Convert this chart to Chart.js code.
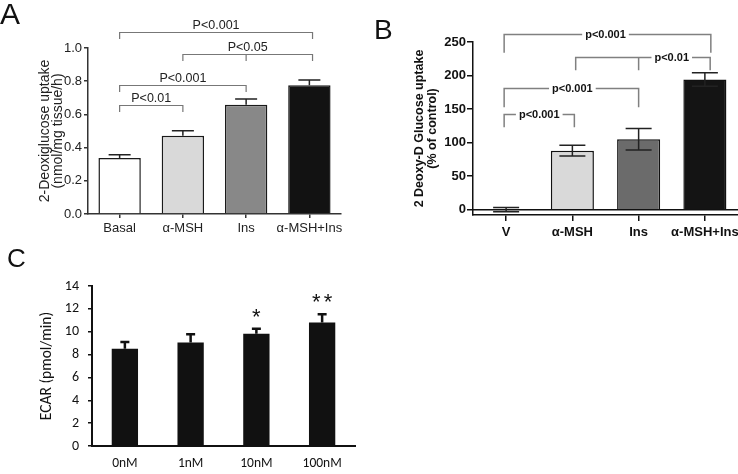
<!DOCTYPE html>
<html>
<head>
<meta charset="utf-8">
<script src="https://cdn.jsdelivr.net/npm/chart.js@4.4.1/dist/chart.umd.min.js"></script>
<style>
  body { margin: 0; background: #fff; overflow: hidden; width: 738px; height: 474px; position: relative; }
  canvas { position: absolute; }
  .panel { position: absolute; font-family: 'Liberation Sans', Arial, sans-serif; line-height: 1; color: #111; }
</style>
</head>
<body>
<canvas id="chartA" width="360" height="245" style="left:0;top:0"></canvas>
<canvas id="chartB" width="400" height="250" style="left:360px;top:0"></canvas>
<canvas id="chartC" width="380" height="229" style="left:0;top:245px"></canvas>
<div class="panel" style="left:0;top:-1px;font-size:30px">A</div>
<div class="panel" style="left:374px;top:16px;font-size:28px">B</div>
<div class="panel" style="left:7px;top:245px;font-size:26px">C</div>
<script>
const SANS = "'Liberation Sans', Arial, sans-serif";
const CALI = "Carlito, Lato, sans-serif";

// panel A
const labelsA = ['Basal', 'α-MSH', 'Ins', 'α-MSH+Ins'];
const meanA = [0.337, 0.472, 0.658, 0.775];
const semA = [0.02, 0.03, 0.035, 0.032];
const ticksA = [0, 0.2, 0.4, 0.6, 0.8, 1.0];
const titleA = ['2-Deoxiglucose uptake', '(nmol/mg tissue/h)'];
// [from, to, line y, drop y, label, middle tick]
const bracketsA = [
  [0, 3.05, 1.096, 1.054, 'P<0.001', null],
  [1, 3.05, 0.964, 0.922, 'P<0.05', 2],
  [0, 2, 0.777, 0.735, 'P<0.001', null],
  [0, 1, 0.657, 0.614, 'P<0.01', null]
];

// panel B
const labelsB = ['V', 'α-MSH', 'Ins', 'α-MSH+Ins'];
const meanB = [0, 88, 105, 194];
const semB = [3, 8, 16, 10];
const ticksB = [0, 50, 100, 150, 200, 250];
const titleB = ['2 Deoxy-D Glucose uptake', '(% of control)'];
// [from, to, line y, drop y, label, middle tick, label x]
const bracketsB = [
  [-0.03, 3.09, 262, 234, 'p<0.001', null, 1.5],
  [1.05, 3.08, 227.5, 208, 'p<0.01', 2, 2.5],
  [-0.03, 2.0, 181.6, 152.7, 'p<0.001', null, 1],
  [-0.03, 1.03, 142, 123, 'p<0.001', null, 0.5]
];

// panel C
const labelsC = ['0nM', '1nM', '10nM', '100nM'];
const meanC = [8.52, 9.05, 9.83, 10.8];
const semC = [0.58, 0.72, 0.44, 0.72];
const starsC = ['', '', '*', '**'];
const titleC = ['ECAR (pmol/min)'];

function errorPlugin(sem, o) {
  return {
    id: 'errorBars',
    afterDatasetsDraw(chart) {
      const { ctx, scales: { y } } = chart;
      const data = chart.data.datasets[0].data;
      ctx.save();
      ctx.strokeStyle = o.color;
      ctx.lineWidth = o.width;
      chart.getDatasetMeta(0).data.forEach((bar, i) => {
        const top = y.getPixelForValue(data[i] + sem[i]);
        const bottom = o.both ? y.getPixelForValue(data[i] - sem[i]) : bar.y;
        const h = o.cap / 2;
        ctx.beginPath();
        ctx.moveTo(bar.x, bottom); ctx.lineTo(bar.x, top);
        ctx.moveTo(bar.x - h, top); ctx.lineTo(bar.x + h, top);
        if (o.both) { ctx.moveTo(bar.x - h, bottom); ctx.lineTo(bar.x + h, bottom); }
        ctx.stroke();
      });
      ctx.restore();
    }
  };
}

function bracketPlugin(brackets, o) {
  return {
    id: 'brackets',
    afterDraw(chart) {
      const { ctx, scales: { x, y } } = chart;
      ctx.save();
      ctx.font = o.font;
      ctx.textAlign = 'center';
      brackets.forEach(([from, to, top, drop, label, mid, at]) => {
        const x1 = x.getPixelForValue(from), x2 = x.getPixelForValue(to);
        const yt = Math.round(y.getPixelForValue(top)) + 0.5, yd = y.getPixelForValue(drop);
        ctx.strokeStyle = o.line;
        ctx.lineWidth = o.width;
        ctx.beginPath();
        ctx.moveTo(x1, yd); ctx.lineTo(x1, yt); ctx.lineTo(x2, yt); ctx.lineTo(x2, yd);
        if (mid !== null) {
          const xm = x.getPixelForValue(mid);
          ctx.moveTo(xm, yt); ctx.lineTo(xm, yd);
        }
        ctx.stroke();
        if (o.inline) {
          const xl = x.getPixelForValue(at);
          const w = ctx.measureText(label).width + 6;
          ctx.fillStyle = '#fff';
          ctx.fillRect(xl - w / 2, yt - 3, w, 6);
          ctx.fillStyle = o.text;
          ctx.textBaseline = 'middle';
          ctx.fillText(label, xl, yt);
        } else {
          ctx.fillStyle = o.text;
          ctx.textBaseline = 'alphabetic';
          ctx.fillText(label, (x1 + x2) / 2, yt - 4);
        }
      });
      ctx.restore();
    }
  };
}

// rotated y-axis title, one x position per line
function yTitlePlugin(lines, xs, font, color) {
  return {
    id: 'yTitle',
    afterDraw(chart) {
      const { ctx, chartArea } = chart;
      const cy = (chartArea.top + chartArea.bottom) / 2;
      ctx.save();
      ctx.font = font;
      ctx.fillStyle = color;
      ctx.textAlign = 'center';
      ctx.textBaseline = 'middle';
      lines.forEach((line, i) => {
        ctx.save();
        ctx.translate(xs[i], cy);
        ctx.rotate(-Math.PI / 2);
        ctx.fillText(line, 0, 0);
        ctx.restore();
      });
      ctx.restore();
    }
  };
}

const zeroLine = {
  id: 'zeroLine',
  afterDatasetsDraw(chart) {
    const { ctx, chartArea, scales: { y } } = chart;
    const y0 = y.getPixelForValue(0);
    ctx.save();
    ctx.strokeStyle = '#111';
    ctx.lineWidth = 1.5;
    ctx.beginPath();
    ctx.moveTo(chartArea.left, y0); ctx.lineTo(chartArea.right, y0);
    ctx.stroke();
    ctx.restore();
  }
};

const starPlugin = {
  id: 'stars',
  afterDraw(chart) {
    const { ctx, scales: { y } } = chart;
    ctx.save();
    ctx.font = "22px " + SANS;
    ctx.fillStyle = '#111';
    ctx.textAlign = 'center';
    ctx.letterSpacing = '3px';
    chart.getDatasetMeta(0).data.forEach((bar, i) => {
      if (!starsC[i]) return;
      const top = y.getPixelForValue(meanC[i] + semC[i]);
      ctx.fillText(starsC[i], bar.x + 1.5, top - 5);
    });
    ctx.restore();
  }
};

// A
new Chart(document.getElementById('chartA'), {
  type: 'bar',
  data: {
    labels: labelsA,
    datasets: [{
      data: meanA,
      backgroundColor: ['#ffffff', '#d9d9d9', '#888888', '#121212'],
      borderColor: '#1a1a1a',
      borderWidth: 1.5,
      barPercentage: 0.67,
      categoryPercentage: 1
    }]
  },
  options: {
    responsive: false,
    animation: false,
    events: [],
    layout: { padding: { left: 0, top: 48, right: 19, bottom: 1 } },
    plugins: { legend: { display: false }, tooltip: { enabled: false } },
    scales: {
      x: {
        offset: true,
        grid: { drawOnChartArea: false, offset: false, tickLength: 4, color: '#333', lineWidth: 1.5 },
        border: { color: '#333', width: 1.5 },
        ticks: { color: '#222', font: { family: SANS, size: 13 }, padding: 3, maxRotation: 0, autoSkip: false },
        afterFit: s => { s.height = 30; }
      },
      y: {
        min: 0,
        max: 1,
        afterBuildTicks: s => { s.ticks = ticksA.map(v => ({ value: v })); },
        grid: { drawOnChartArea: false, tickLength: 4, color: '#333', lineWidth: 1.5 },
        border: { color: '#333', width: 1.5 },
        ticks: { color: '#222', font: { family: SANS, size: 13 }, padding: 2, callback: v => v.toFixed(1) },
        afterFit: s => { s.width = 88; }
      }
    }
  },
  plugins: [
    errorPlugin(semA, { cap: 22, width: 1.5, color: '#222', both: false }),
    bracketPlugin(bracketsA, { line: '#777', width: 1.2, text: '#222', font: "12.5px " + SANS, inline: false }),
    yTitlePlugin(titleA, [45, 58], "14px " + SANS, '#222')
  ]
});

// B
new Chart(document.getElementById('chartB'), {
  type: 'bar',
  data: {
    labels: labelsB,
    datasets: [{
      data: meanB,
      backgroundColor: ['#ffffff', '#d9d9d9', '#6b6b6b', '#141414'],
      borderColor: '#111',
      borderWidth: [0, 1.5, 1.5, 1.5],
      barPercentage: 0.65,
      categoryPercentage: 1
    }]
  },
  options: {
    responsive: false,
    animation: false,
    events: [],
    layout: { padding: { left: 0, top: 42, right: 22, bottom: 0 } },
    plugins: { legend: { display: false }, tooltip: { enabled: false } },
    scales: {
      x: {
        offset: true,
        grid: { drawOnChartArea: false, offset: false, tickLength: 6, color: '#111', lineWidth: 1.5 },
        border: { color: '#111', width: 1.5 },
        ticks: { color: '#111', font: { family: SANS, size: 13, weight: 'bold' }, padding: 4, maxRotation: 0, autoSkip: false },
        afterFit: s => { s.height = 35; }
      },
      y: {
        min: -8,
        max: 250,
        afterBuildTicks: s => { s.ticks = ticksB.map(v => ({ value: v })); },
        grid: { drawOnChartArea: false, tickLength: 6, color: '#111', lineWidth: 1.5 },
        border: { color: '#111', width: 1.5 },
        ticks: { color: '#111', font: { family: SANS, size: 13, weight: 'bold' }, padding: 1 },
        afterFit: s => { s.width = 113; }
      }
    }
  },
  plugins: [
    zeroLine,
    errorPlugin(semB, { cap: 26, width: 1.5, color: '#222', both: true }),
    bracketPlugin(bracketsB, { line: '#808080', width: 1.5, text: '#111', font: "bold 11px " + SANS, inline: true }),
    yTitlePlugin(titleB, [60, 72.5], "bold 12.5px " + SANS, '#111')
  ]
});

// C
new Chart(document.getElementById('chartC'), {
  type: 'bar',
  data: {
    labels: labelsC,
    datasets: [{
      data: meanC,
      backgroundColor: '#111',
      borderWidth: 0,
      barPercentage: 0.4,
      categoryPercentage: 1
    }]
  },
  options: {
    responsive: false,
    animation: false,
    events: [],
    layout: { padding: { left: 0, top: 41, right: 25, bottom: 0 } },
    plugins: { legend: { display: false }, tooltip: { enabled: false } },
    scales: {
      x: {
        offset: true,
        grid: { display: false, drawTicks: false },
        border: { color: '#111', width: 2 },
        ticks: { color: '#111', font: { family: CALI, size: 13.5 }, padding: 10, maxRotation: 0, autoSkip: false },
        afterFit: s => { s.height = 28; }
      },
      y: {
        min: 0,
        max: 14,
        ticks: { stepSize: 2, color: '#111', font: { family: CALI, size: 14 }, padding: 9 },
        grid: { drawOnChartArea: false, tickLength: 4, color: '#111', lineWidth: 1.5 },
        border: { color: '#111', width: 2 },
        afterFit: s => { s.width = 92; }
      }
    }
  },
  plugins: [
    errorPlugin(semC, { cap: 9, width: 2.5, color: '#111', both: false }),
    starPlugin,
    yTitlePlugin(titleC, [47], "15.5px " + CALI, '#111')
  ]
});
</script>
</body>
</html>
